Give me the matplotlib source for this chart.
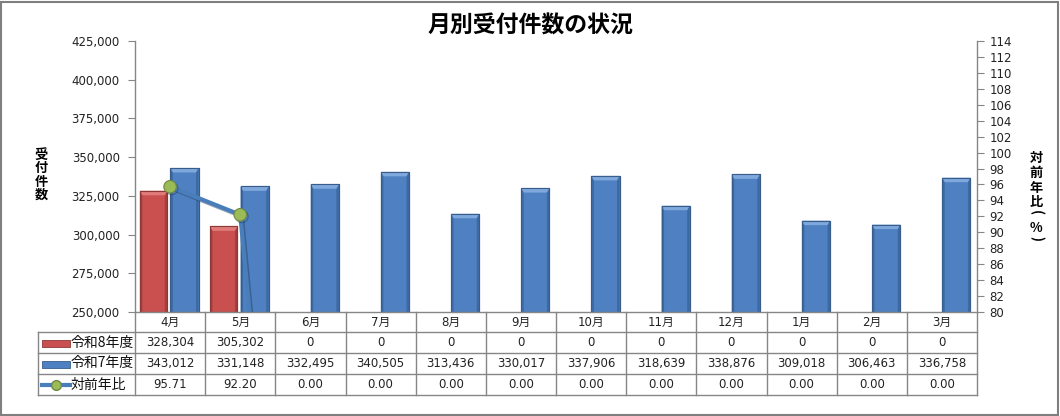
import matplotlib
matplotlib.use("Agg")
import matplotlib.pyplot as plt
from matplotlib.patches import Rectangle, Polygon
from matplotlib.lines import Line2D
import matplotlib.transforms as mtransforms
import matplotlib.patheffects as pe

plt.rcParams['font.family'] = ['DejaVu Sans', 'Noto Sans CJK JP']

# data
months = ['4月', '5月', '6月', '7月', '8月', '9月', '10月', '11月', '12月', '1月', '2月', '3月']
r8 = [328304, 305302, 0, 0, 0, 0, 0, 0, 0, 0, 0, 0]
r7 = [343012, 331148, 332495, 340505, 313436, 330017, 337906, 318639, 338876, 309018, 306463, 336758]
ratio = [95.71, 92.20, 0, 0, 0, 0, 0, 0, 0, 0, 0, 0]
series_names = ['令和8年度', '令和7年度', '対前年比']

RED = '#C9504F'
RED_EDGE = '#8C3836'
RED_TOP = '#E07B79'
RED_SIDE = '#A53F3D'
BLUE = '#4F81C2'
BLUE_EDGE = '#385D8A'
BLUE_TOP = '#7FA8DD'
BLUE_SIDE = '#3D6AA3'
LINE = '#4A7EBB'
GRID = '#868686'

W, H = 1060, 416
fig = plt.figure(figsize=(W / 100, H / 100), dpi=100)

# plot area in pixels: x 135..977, y 41..312
L, R, T, B = 135, 977, 41, 312
ax = fig.add_axes([L / W, 1 - B / H, (R - L) / W, (B - T) / H])

YMIN, YMAX = 250000, 425000
x = list(range(len(months)))
bars8 = ax.bar([i - 0.235 for i in x], r8, width=0.39, color=RED, edgecolor=RED_EDGE, linewidth=0.8, zorder=2)
bars7 = ax.bar([i + 0.205 for i in x], r7, width=0.40, color=BLUE, edgecolor=BLUE_EDGE, linewidth=0.8, zorder=2)
ax.set_xlim(-0.5, len(months) - 0.5)
ax.set_ylim(YMIN, YMAX)

# bevel look like the Excel bars
sx = 2.5 / ((R - L) / len(months))
sy = 4.5 * (YMAX - YMIN) / (B - T)
for bars, top_c, side_c in [(bars8, RED_TOP, RED_SIDE), (bars7, BLUE_TOP, BLUE_SIDE)]:
    for b in bars:
        x0, w, top = b.get_x(), b.get_width(), b.get_height()
        if top <= YMIN:
            continue
        ax.add_patch(Polygon([(x0, YMIN), (x0, top), (x0 + sx, top - sy), (x0 + sx, YMIN)],
                             closed=True, facecolor=side_c, edgecolor='none', zorder=2.1))
        ax.add_patch(Polygon([(x0 + w, YMIN), (x0 + w, top), (x0 + w - sx, top - sy), (x0 + w - sx, YMIN)],
                             closed=True, facecolor=side_c, edgecolor='none', zorder=2.1))
        ax.add_patch(Polygon([(x0, top), (x0 + w, top), (x0 + w - sx, top - sy), (x0 + sx, top - sy)],
                             closed=True, facecolor=top_c, edgecolor='none', zorder=2.1))
        ax.add_patch(Rectangle((x0, YMIN), w, top - YMIN, facecolor='none', edgecolor=b.get_edgecolor(),
                               linewidth=0.8, zorder=2.2))

ax.set_yticks(range(YMIN, YMAX + 1, 25000))
ax.set_yticklabels([f'{v:,}' for v in range(YMIN, YMAX + 1, 25000)])
ax.set_xticks([])
ax.tick_params(axis='y', direction='out', length=5, color=GRID, labelsize=8.5, pad=6, labelcolor='#222222')
for s in ['top', 'right']:
    ax.spines[s].set_visible(False)
for s in ['left', 'bottom']:
    ax.spines[s].set_color(GRID)
    ax.spines[s].set_linewidth(1.0)

ax2 = ax.twinx()
ax2.plot(x, ratio, color=LINE, linewidth=3, marker='o', markersize=9,
         markerfacecolor='#9BBB59', markeredgecolor='#71893F', markeredgewidth=0.8, zorder=3,
         path_effects=[pe.SimpleLineShadow(offset=(1.2, -1.2), shadow_color='#1F3B5E', alpha=0.45), pe.Normal()])
ax2.set_ylim(80, 114)
ax2.set_yticks(range(80, 115, 2))
ax2.tick_params(axis='y', direction='out', length=5, color=GRID, labelsize=8.5, pad=4, labelcolor='#222222')
for s in ['top', 'left', 'bottom']:
    ax2.spines[s].set_visible(False)
ax2.spines['right'].set_color(GRID)
ax2.spines['right'].set_linewidth(1.0)

# data table under the plot
def ay(px):
    return (B - px) / (B - T)

def axx(px):
    return (px - L) / (R - L)

blend = mtransforms.blended_transform_factory(ax.transData, ax.transAxes)
row_edges = [312, 332, 353, 374, 395]
tbl_kw = dict(color=GRID, linewidth=1.0, clip_on=False)
for k in range(len(months) + 1):
    ax.add_line(Line2D([k - 0.5, k - 0.5], [ay(312), ay(395)], transform=blend, **tbl_kw))
for py in row_edges[1:]:
    ax.add_line(Line2D([axx(38), 1], [ay(py), ay(py)], transform=ax.transAxes, **tbl_kw))
ax.add_line(Line2D([axx(38), axx(38)], [ay(332), ay(395)], transform=ax.transAxes, **tbl_kw))

for i, m in enumerate(months):
    ax.text(i, ay(322), m, transform=blend, ha='center', va='center', fontsize=8.5, color='#222222')
    ax.text(i, ay(342.5), f'{r8[i]:,}', transform=blend, ha='center', va='center', fontsize=8.5, color='#222222')
    ax.text(i, ay(363.5), f'{r7[i]:,}', transform=blend, ha='center', va='center', fontsize=8.5, color='#222222')
    ax.text(i, ay(384.5), f'{ratio[i]:.2f}', transform=blend, ha='center', va='center', fontsize=8.5, color='#222222')

# legend keys inside the table
ax.add_patch(Rectangle((axx(42), ay(346.5)), axx(70) - axx(42), ay(339.5) - ay(346.5),
                       transform=ax.transAxes, facecolor=RED, edgecolor=RED_EDGE, linewidth=0.6, clip_on=False))
ax.add_patch(Rectangle((axx(42), ay(367.5)), axx(70) - axx(42), ay(360.5) - ay(367.5),
                       transform=ax.transAxes, facecolor=BLUE, edgecolor=BLUE_EDGE, linewidth=0.6, clip_on=False))
ax.add_line(Line2D([axx(42), axx(70)], [ay(384.5), ay(384.5)], transform=ax.transAxes, color=LINE,
                   linewidth=3, clip_on=False))
ax.add_line(Line2D([axx(56)], [ay(384.5)], transform=ax.transAxes, marker='o', markersize=7,
                   markerfacecolor='#9BBB59', markeredgecolor='#71893F', clip_on=False))
for py, name in zip([342.5, 363.5, 384.5], series_names):
    ax.text(axx(71), ay(py), name, transform=ax.transAxes, ha='left', va='center', fontsize=10,
            family=['Noto Sans CJK JP'], color='#111111')

# title and axis titles
fig.text(530 / W, 1 - 26 / H, '月別受付件数の状況', ha='center', va='center', fontsize=16.5,
         fontweight='bold', family=['Noto Sans CJK JP'])
fig.text(41 / W, 1 - 175 / H, '受\n付\n件\n数', ha='center', va='center', fontsize=9.5,
         fontweight='bold', family=['Noto Sans CJK JP'], linespacing=0.95)
right_label = ['対', '前', '年', '比', '(', '%', ')']
right_y = [158, 173, 188, 202, 213, 228, 239]
right_rot = [0, 0, 0, 0, -90, 0, -90]
for ch, py, rot in zip(right_label, right_y, right_rot):
    fig.text(1036 / W, 1 - py / H, ch, ha='center', va='center', fontsize=9.5, rotation=rot,
             fontweight='bold', family=['Noto Sans CJK JP', 'DejaVu Sans'])

# outer frame
fig.patches.append(Rectangle((1 / W, 1 / H), (W - 3) / W, (H - 3) / H, transform=fig.transFigure,
                             fill=False, edgecolor='#7F7F7F', linewidth=1.5))

fig.savefig('out.png', dpi=100)
